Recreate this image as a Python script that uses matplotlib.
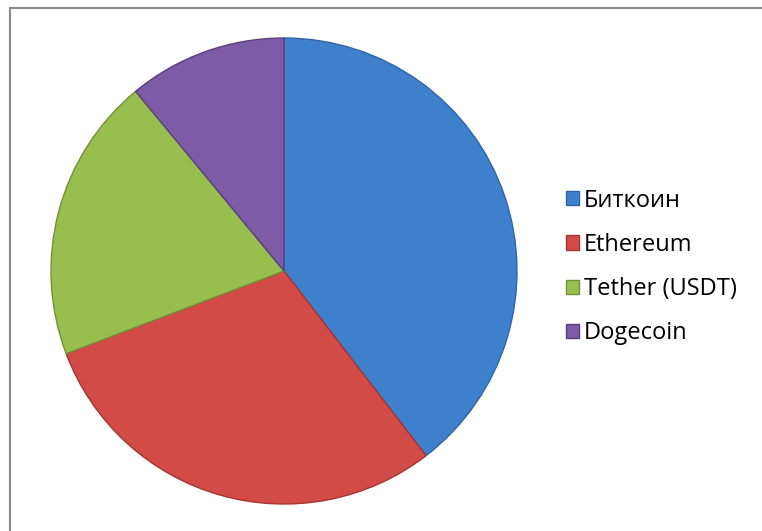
import matplotlib
matplotlib.use("Agg")
import matplotlib.pyplot as plt
from matplotlib.lines import Line2D

labels = ["Биткоин", "Ethereum", "Tether (USDT)", "Dogecoin"]
values = [36, 27, 18, 10]
colors = ["#3F80CD", "#D24B47", "#98BE4F", "#7D5BA6"]
edges = ["#2F64A8", "#A8332F", "#6F9435", "#5A3F80"]

plt.rcParams["font.family"] = ["Open Sans", "DejaVu Sans"]

fig = plt.figure(figsize=(7.62, 5.31), dpi=100)
W, H = 762, 531

# рамка диаграммы (видны только верх и лево)
fig.add_artist(Line2D([10 / W, 10 / W], [0, 1 - 8 / H], color="#8a8a8a", lw=1.5))
fig.add_artist(Line2D([10 / W, 1], [1 - 8 / H, 1 - 8 / H], color="#8a8a8a", lw=1.5))

cx, cy, r = 284, 271, 233
ax = fig.add_axes([(cx - r) / W, (H - cy - r) / H, 2 * r / W, 2 * r / H])
wedges, _ = ax.pie(values, colors=colors, startangle=90, counterclock=False,
                   radius=1.0, wedgeprops=dict(linewidth=1.0))
for w, ec in zip(wedges, edges):
    w.set_edgecolor(ec)
ax.set_xlim(-1.0, 1.0)
ax.set_ylim(-1.0, 1.0)
ax.set_aspect("equal")
ax.axis("off")

fig.legend(wedges, labels, loc="center left", bbox_to_anchor=(566 / W, 1 - 267 / H),
           frameon=False, fontsize=17, handlelength=0.55, handleheight=0.55,
           handletextpad=0.2, labelspacing=0.86, borderaxespad=0, borderpad=0)

fig.savefig("out.png", dpi=100)
